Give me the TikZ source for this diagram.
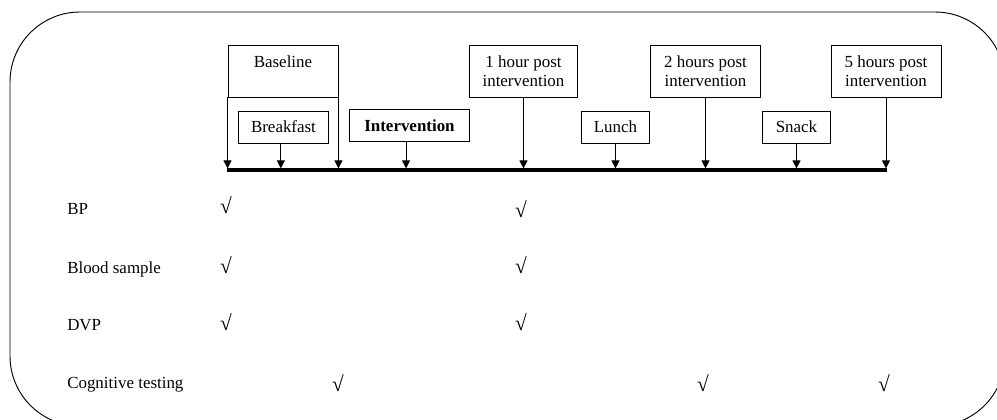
\documentclass[tikz,border=0pt]{standalone}
\usepackage{fontspec}
\setmainfont{Liberation Serif}
\usetikzlibrary{arrows.meta}

\begin{document}
\begin{tikzpicture}[x=0.75pt, y=-0.75pt, font=\fontsize{12.7}{14.25}\selectfont,
	box/.style={draw, line width=0.7pt, align=center, inner sep=0pt},
	tallbox/.style={box, minimum height=39pt},
	smallbox/.style={box, minimum height=24pt},
	arr/.style={line width=0.7pt, -{Triangle[width=6pt,length=6pt]}, shorten >=1.2pt},
	row/.style={anchor=base west, inner sep=0pt},
	tick/.style={anchor=base, inner sep=0pt, font=\fontsize{16}{16}\selectfont}]
	\useasboundingbox (0,0) rectangle (997,419);
	\draw[line width=0.7pt, rounded corners=52.5pt] (10,12) rectangle (1005,426);

	\coordinate (t0) at (227,170);
	\coordinate (t1) at (887,170);

	\node[tallbox, minimum width=82.5pt] (base) at (283,71) {Baseline\\~};
	\node[smallbox, minimum width=67.5pt] (brk) at (283.5,127) {Breakfast};
	\node[box, minimum height=23.5pt, minimum width=90pt] (intv) at (409.5,125.5) {\textbf{Intervention}};
	\node[tallbox, minimum width=81.5pt] (h1) at (523.5,71) {1 hour post\\intervention};
	\node[smallbox, minimum width=51.5pt] (lunch) at (615.5,127) {Lunch};
	\node[tallbox, minimum width=83pt] (h2) at (705.5,71) {2 hours post\\intervention};
	\node[smallbox, minimum width=51.5pt] (snack) at (796.5,127) {Snack};
	\node[tallbox, minimum width=82.5pt] (h5) at (886,71) {5 hours post\\intervention};

	\draw[line width=2.6pt] (t0) -- (t1);

	\draw[arr] (base.south west) -- (base.south west |- t0);
	\draw[arr] (base.south east) -- (base.south east |- t0);
	\draw[arr] ([xshift=-2pt]brk.south) -- ([xshift=-2pt]brk.south |- t0);
	\draw[arr] ([xshift=-2.6pt]intv.south) -- ([xshift=-2.6pt]intv.south |- t0);
	\draw[arr] (h1.south) -- (h1.south |- t0);
	\draw[arr] (lunch.south) -- (lunch.south |- t0);
	\draw[arr] (h2.south) -- (h2.south |- t0);
	\draw[arr] (snack.south) -- (snack.south |- t0);
	\draw[arr] (h5.south) -- (h5.south |- t0);

	% measurements
	\node[row] (bp) at (67,214) {BP};
	\node[row] (blood) at (67,273) {Blood sample};
	\node[row] (dvp) at (67,330) {DVP};
	\node[row] (cog) at (67,388) {Cognitive testing};

	\node[tick] (bp1) at (226,213) {√};
	\node[tick] (bp2) at (521,217) {√};
	\node[tick] (blood1) at (226,273) {√};
	\node[tick] (blood2) at (521,273) {√};
	\node[tick] (dvp1) at (226,330) {√};
	\node[tick] (dvp2) at (521,330) {√};
	\node[tick] (cog1) at (338,391) {√};
	\node[tick] (cog2) at (703,391) {√};
	\node[tick] (cog3) at (884,391) {√};
\end{tikzpicture}
\end{document}
